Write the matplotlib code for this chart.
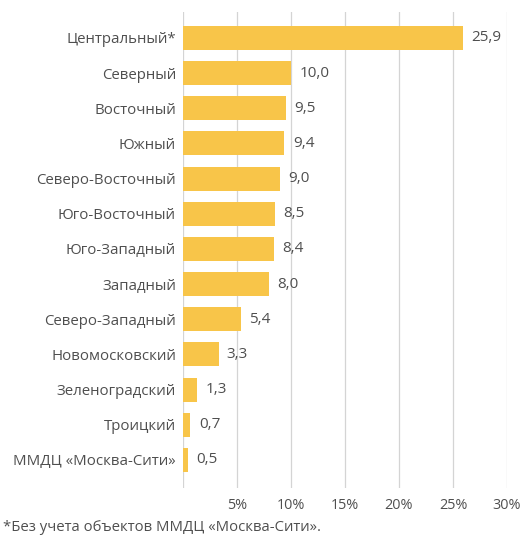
import numpy as np
import matplotlib.pyplot as plt
import matplotlib.ticker as plticker

plt.rcParams['font.family'] = ['Open Sans', 'DejaVu Sans']

# share of districts, %
districts = ['Центральный*', 'Северный', 'Восточный', 'Южный', 'Северо-Восточный',
	'Юго-Восточный', 'Юго-Западный', 'Западный', 'Северо-Западный',
	'Новомосковский', 'Зеленоградский', 'Троицкий', 'ММДЦ «Москва-Сити»']
shares = [25.9, 10.0, 9.5, 9.4, 9.0, 8.5, 8.4, 8.0, 5.4, 3.3, 1.3, 0.7, 0.5]
xticks = [5, 10, 15, 20, 25, 30]
footnote = '*Без учета объектов ММДЦ «Москва-Сити».'

bar_color = '#F8C549'
text_color = '#4f4f4f'

fig = plt.figure(figsize=(5.27, 5.37), dpi=100)
ax = fig.add_axes([0.347, 0.091, 0.615, 0.887])

y = np.arange(len(districts))
ax.barh(y, shares, height=0.68, color=bar_color, zorder=2)

for yi, v in zip(y, shares):
	ax.annotate(('%.1f' % v).replace('.', ','), (v, yi), xytext=(6, 0),
		textcoords='offset points', va='center', ha='left',
		fontsize=11, color=text_color)

ax.set_xlim(0, 30)
ax.set_ylim(12.8, -0.74)
ax.set_yticks(y)
ax.set_yticklabels(districts, fontsize=10.8, color=text_color)
ax.set_xticks([0] + xticks)
ax.set_xticklabels([''] + ['%d%%' % t for t in xticks], fontsize=10.4, color=text_color)
ax.tick_params(axis='both', length=0)
ax.tick_params(axis='y', pad=5)
ax.tick_params(axis='x', pad=7)
ax.xaxis.grid(True, color='#d4d4d4', linewidth=0.9, zorder=0)
for s in ax.spines.values():
	s.set_visible(False)

fig.text(0.006, 0.004, footnote, fontsize=10.7, color=text_color, ha='left', va='bottom')

plt.savefig('out.png', dpi=100)
